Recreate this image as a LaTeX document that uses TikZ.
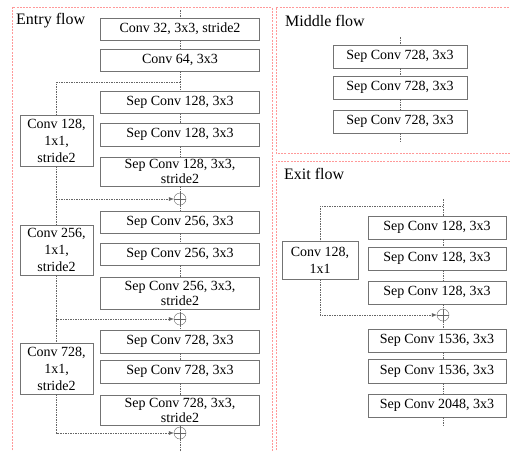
\documentclass[tikz,border=0pt]{standalone}
\usepackage{fontspec}
\setmainfont{Liberation Serif}
\usetikzlibrary{arrows.meta, calc}

\begin{document}
\begin{tikzpicture}[
  x=1pt, y=-1pt,
  font=\fontsize{14}{15}\selectfont,
  block/.style={draw=black!55, line width=0.6pt, minimum height=22pt, inner sep=0pt, align=center},
  wide/.style={block, minimum width=159pt},
  mid/.style={block, minimum width=134pt},
  exitbox/.style={block, minimum width=138pt},
  side/.style={block, font=\fontsize{14}{17}\selectfont},
  sum/.style={draw=black!60, circle, minimum size=12pt, inner sep=0pt,
    path picture={\draw[black!60, line width=0.4pt]
      (path picture bounding box.north) -- (path picture bounding box.south)
      (path picture bounding box.west) -- (path picture bounding box.east);}},
  link/.style={draw=black!60, line width=0.5pt, dash pattern=on 1.5pt off 1pt},
  panel/.style={draw=red!40, line width=0.6pt, dash pattern=on 2pt off 1.2pt},
  title/.style={font=\fontsize{16}{18}\selectfont, anchor=west, inner sep=0pt},
  >={Latex[length=5pt,width=4pt]}
]
\useasboundingbox (0,0) rectangle (510,451);
\clip (0,0) rectangle (510,451);

% --- panels ---
\draw[panel] (12,460) -- (12,7) -- (272,7) -- (272,460);
\draw[panel] (520,153) -- (276,153) -- (276,7) -- (520,7);
\draw[panel] (276,460) -- (276,161) -- (520,161);
\node[title] (tentry) at (16,21) {Entry flow};
\node[title] (tmid) at (285,21) {Middle flow};
\node[title] (texit) at (284,174) {Exit flow};

% --- entry flow: main column ---
\coordinate (etop) at (180,10);
\coordinate (ebot) at (180,455);
\node[wide] (c32) at (180,29) {Conv 32, 3x3, stride2};
\node[wide] (c64) at (180,60) {Conv 64, 3x3};
\node[wide] (s1a) at (180,102.5) {Sep Conv 128, 3x3};
\node[wide, minimum height=23pt] (s1b) at (180,134.5) {Sep Conv 128, 3x3};
\node[wide, minimum height=29pt] (s1c) at (180,171.5) {Sep Conv 128, 3x3,\\stride2};
\node[sum] (p1) at (180,199) {};
\node[wide] (s2a) at (180,222) {Sep Conv 256, 3x3};
\node[wide] (s2b) at (180,254) {Sep Conv 256, 3x3};
\node[wide, minimum height=32pt] (s2c) at (180,293) {Sep Conv 256, 3x3,\\stride2};
\node[sum] (p2) at (180,319) {};
\node[wide, minimum height=23pt] (s3a) at (180,341.5) {Sep Conv 728, 3x3};
\node[wide, minimum height=23pt] (s3b) at (180,371.5) {Sep Conv 728, 3x3};
\node[wide, minimum height=30pt] (s3c) at (180,410) {Sep Conv 728, 3x3,\\stride2};
\node[sum] (p3) at (180,433) {};

\draw[link] (etop) -- (c32) -- (c64) -- (s1a) -- (s1b) -- (s1c) -- (p1)
  -- (s2a) -- (s2b) -- (s2c) -- (p2) -- (s3a) -- (s3b) -- (s3c) -- (p3) -- (ebot);

% --- entry flow: shortcut branch ---
\coordinate (ej) at (56.5,82);
\node[side, minimum width=73pt, minimum height=51pt] (k1) at (56.5,140.5) {Conv 128,\\1x1,\\stride2};
\node[side, minimum width=73pt, minimum height=50pt] (k2) at (56.5,250) {Conv 256,\\1x1,\\stride2};
\node[side, minimum width=73pt, minimum height=51pt] (k3) at (56.5,368.5) {Conv 728,\\1x1,\\stride2};

\draw[link] (c64.south |- ej) -- (ej) -- (k1.north);
\draw[link, ->] (k1.south) |- (p1.west);
\draw[link] (k1.south) -- (k2.north);
\draw[link, ->] (k2.south) |- (p2.west);
\draw[link] (k2.south) -- (k3.north);
\draw[link, ->] (k3.south) |- (p3.west);

% --- middle flow ---
\coordinate (mtop) at (400,37);
\coordinate (mbot) at (400,143);
\node[mid, minimum height=23pt] (m1) at (400,56.5) {Sep Conv 728, 3x3};
\node[mid, minimum height=23pt] (m2) at (400,87.5) {Sep Conv 728, 3x3};
\node[mid, minimum height=23pt] (m3) at (400,121.5) {Sep Conv 728, 3x3};
\draw[link] (mtop) -- (m1) -- (m2) -- (m3) -- (mbot);

% --- exit flow ---
\coordinate (xtop) at (443,199);
\coordinate (xj) at (443,206);
\coordinate (xbot) at (443,427);
\node[exitbox, minimum height=23pt] (e1) at (437,227.5) {Sep Conv 128, 3x3};
\node[exitbox, minimum height=23pt] (e2) at (437,258.5) {Sep Conv 128, 3x3};
\node[exitbox, minimum height=23pt] (e3) at (437,292.5) {Sep Conv 128, 3x3};
\node[sum] (xp) at (443,315) {};
\node[exitbox, minimum height=23pt] (e4) at (437,340.5) {Sep Conv 1536, 3x3};
\node[exitbox, minimum height=24pt] (e5) at (437,371) {Sep Conv 1536, 3x3};
\node[exitbox, minimum height=23pt] (e6) at (437,405.5) {Sep Conv 2048, 3x3};
\node[side, minimum width=76pt, minimum height=38pt] (k4) at (320,260) {Conv 128,\\1x1};

\draw[link] (xtop) -- (e1.north -| xtop);
\foreach \a/\b in {e1/e2, e2/e3, e4/e5, e5/e6}
  \draw[link] (\a.south -| xtop) -- (\b.north -| xtop);
\draw[link] (e3.south -| xtop) -- (xp) -- (e4.north -| xtop);
\draw[link] (e6.south -| xtop) -- (xbot);

\draw[link] (xj) -- (xj -| k4) -- (k4.north);
\draw[link, ->] (k4.south) |- (xp.west);
\end{tikzpicture}
\end{document}
